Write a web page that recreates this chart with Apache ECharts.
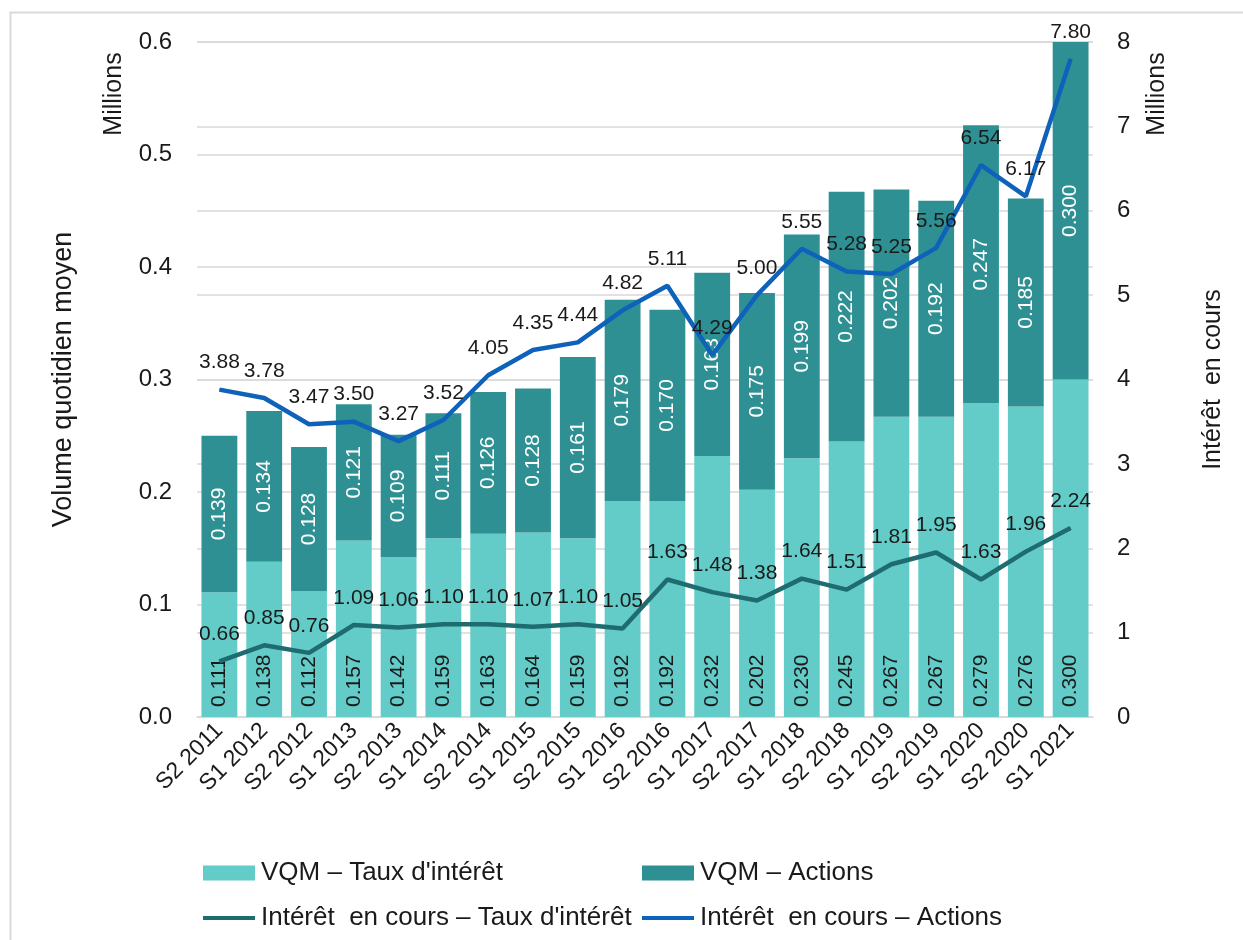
<!DOCTYPE html>
<html>
<head>
<meta charset="utf-8">
<script src="https://cdn.jsdelivr.net/npm/echarts@6/dist/echarts.min.js"></script>
<style>
html, body { margin: 0; padding: 0; background: #fff; }
#chart { width: 1243px; height: 940px; }
</style>
</head>
<body>
<div id="chart"></div>
<script>
// semestres
var periods = ['S2 2011', 'S1 2012', 'S2 2012', 'S1 2013', 'S2 2013', 'S1 2014', 'S2 2014',
	'S1 2015', 'S2 2015', 'S1 2016', 'S2 2016', 'S1 2017', 'S2 2017', 'S1 2018', 'S2 2018',
	'S1 2019', 'S2 2019', 'S1 2020', 'S2 2020', 'S1 2021'];

// volume quotidien moyen (millions)
var vqmTaux = [0.111, 0.138, 0.112, 0.157, 0.142, 0.159, 0.163, 0.164, 0.159, 0.192,
	0.192, 0.232, 0.202, 0.230, 0.245, 0.267, 0.267, 0.279, 0.276, 0.300];
var vqmActions = [0.139, 0.134, 0.128, 0.121, 0.109, 0.111, 0.126, 0.128, 0.161, 0.179,
	0.170, 0.163, 0.175, 0.199, 0.222, 0.202, 0.192, 0.247, 0.185, 0.300];

// intérêt en cours (millions)
var oiTaux = [0.66, 0.85, 0.76, 1.09, 1.06, 1.10, 1.10, 1.07, 1.10, 1.05,
	1.63, 1.48, 1.38, 1.64, 1.51, 1.81, 1.95, 1.63, 1.96, 2.24];
var oiActions = [3.88, 3.78, 3.47, 3.50, 3.27, 3.52, 4.05, 4.35, 4.44, 4.82,
	5.11, 4.29, 5.00, 5.55, 5.28, 5.25, 5.56, 6.54, 6.17, 7.80];

var seriesNames = ['VQM – Taux d\'intérêt', 'VQM – Actions',
	'Intérêt  en cours – Taux d\'intérêt', 'Intérêt  en cours – Actions'];

var FONT = '"Liberation Sans", Arial, sans-serif';
var TXT = '#1a1a1a';

var chart = echarts.init(document.getElementById('chart'));

// une légende par entrée, placée comme dans l'original (2 colonnes)
function oneLegend(name, left, top, isLine) {
	return {
		left: left, top: top, padding: 0,
		itemWidth: 52, itemHeight: isLine ? 4 : 15, itemGap: 0,
		icon: 'rect',
		textStyle: { fontSize: 26, color: TXT, fontFamily: FONT, padding: [0, 0, 0, 1] },
		data: [name]
	};
}

var option = {
	backgroundColor: '#fff',
	animation: false,
	textStyle: { fontFamily: FONT },
	grid: { left: 197, right: 150, top: 42, bottom: 223 },
	legend: [
		oneLegend(seriesNames[0], 203, 860, false),
		oneLegend(seriesNames[1], 642, 860, false),
		oneLegend(seriesNames[2], 203, 905, true),
		oneLegend(seriesNames[3], 642, 905, true)
	],
	xAxis: {
		type: 'category',
		data: periods,
		axisLine: { lineStyle: { color: '#d9d9d9', width: 1.5 } },
		axisTick: { show: false },
		axisLabel: { rotate: 45, fontSize: 23, color: TXT, margin: 10, interval: 0 }
	},
	yAxis: [
		{
			type: 'value', min: 0, max: 0.6, interval: 0.1,
			name: 'Volume quotidien moyen', nameLocation: 'middle', nameGap: 120,
			nameRotate: 90,
			nameTextStyle: { fontSize: 27, color: TXT },
			axisLine: { show: false }, axisTick: { show: false },
			axisLabel: { fontSize: 24, color: TXT, margin: 25,
				formatter: function (v) { return v.toFixed(1); } },
			splitLine: { lineStyle: { color: '#d9d9d9', width: 1.5 } }
		},
		{
			type: 'value', min: 0, max: 8, interval: 1,
			name: 'Intérêt  en cours', nameLocation: 'middle', nameGap: 108,
			nameRotate: 90,
			nameTextStyle: { fontSize: 25, color: TXT },
			axisLine: { show: false }, axisTick: { show: false },
			axisLabel: { fontSize: 24, color: TXT, margin: 24 },
			splitLine: { lineStyle: { color: '#d9d9d9', width: 1.5 } }
		}
	],
	graphic: [
		{ type: 'rect', shape: { x: 10.5, y: 12.5, width: 1300, height: 1000 },
			style: { fill: 'none', stroke: '#d9d9d9', lineWidth: 2 }, silent: true },
		{ type: 'text', x: 114, y: 94, rotation: Math.PI / 2,
			style: { text: 'Millions', fontSize: 25, fill: TXT, fontFamily: FONT,
				align: 'center', verticalAlign: 'middle' } },
		{ type: 'text', x: 1157, y: 94, rotation: Math.PI / 2,
			style: { text: 'Millions', fontSize: 25, fill: TXT, fontFamily: FONT,
				align: 'center', verticalAlign: 'middle' } }
	],
	series: [
		{
			name: seriesNames[0], type: 'bar', stack: 'vqm', yAxisIndex: 0,
			barWidth: '80%',
			itemStyle: { color: '#63CCC8' },
			label: { show: true, position: 'insideBottom', rotate: 90, align: 'left',
				verticalAlign: 'middle', distance: 10,
				fontSize: 21, color: TXT, formatter: function (p) { return p.value.toFixed(3); } },
			data: vqmTaux
		},
		{
			name: seriesNames[1], type: 'bar', stack: 'vqm', yAxisIndex: 0,
			barWidth: '80%',
			itemStyle: { color: '#2F9094' },
			label: { show: true, position: 'inside', rotate: 90,
				fontSize: 21, color: '#fff', formatter: function (p) { return p.value.toFixed(3); } },
			data: vqmActions
		},
		{
			name: seriesNames[2], type: 'line', yAxisIndex: 1,
			symbol: 'circle', symbolSize: 1, showSymbol: true,
			lineStyle: { color: '#1E6B70', width: 4.5 },
			itemStyle: { color: '#1E6B70' },
			label: { show: true, position: 'top', distance: 16, fontSize: 21, color: TXT,
				formatter: function (p) { return p.value.toFixed(2); } },
			labelLayout: { hideOverlap: false },
			data: oiTaux
		},
		{
			name: seriesNames[3], type: 'line', yAxisIndex: 1,
			symbol: 'circle', symbolSize: 1, showSymbol: true,
			lineStyle: { color: '#0F62BA', width: 4.5 },
			itemStyle: { color: '#0F62BA' },
			label: { show: true, position: 'top', distance: 16, fontSize: 21, color: TXT,
				formatter: function (p) { return p.value.toFixed(2); } },
			labelLayout: { hideOverlap: false },
			data: oiActions
		}
	]
};

chart.setOption(option);
</script>
</body>
</html>
